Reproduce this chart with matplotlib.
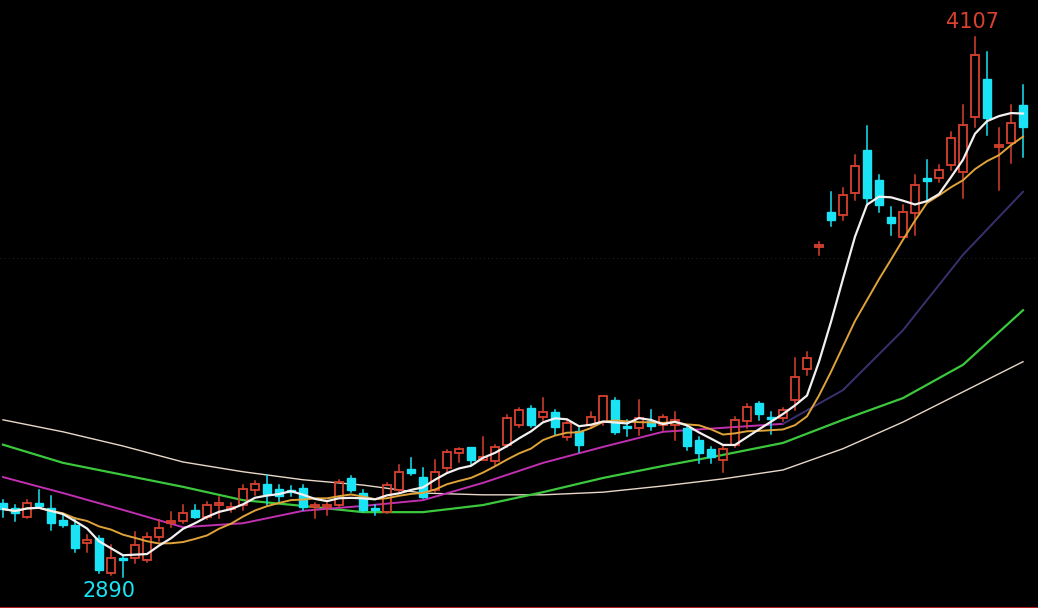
import matplotlib
matplotlib.use("Agg")
import matplotlib.pyplot as plt
import numpy as np
import pandas as pd

opens = [3056,3045,3025,3056,3045,3018,3007,2966,2977,2899,2932,2932,2928,2980,3011,3016,3041,3025,3052,3043,
         3052,3086,3099,3088,3086,3090,3047,3047,3052,3113,3079,3045,3036,3086,3133,3115,3086,3136,3169,3183,
         3154,3151,3188,3233,3271,3250,3262,3206,3219,3233,3239,3289,3230,3226,3242,3233,3233,3226,3199,3179,
         3154,3188,3242,3282,3250,3248,3289,3359,3634,3713,3706,3755,3852,3785,3701,3656,3710,3789,3789,3818,
         3803,3927,4012,3859,3868,3954]
highs = [3063,3052,3063,3086,3072,3029,3023,2984,2982,2962,2937,2991,2989,3018,3036,3052,3052,3059,3070,3056,
         3097,3106,3120,3097,3095,3097,3056,3056,3108,3117,3086,3052,3102,3142,3158,3136,3154,3176,3181,3183,
         3206,3188,3255,3271,3275,3293,3266,3244,3226,3262,3298,3293,3244,3289,3266,3255,3262,3228,3206,3183,
         3185,3250,3280,3284,3262,3271,3384,3397,3645,3758,3766,3841,3906,3796,3724,3728,3796,3830,3818,3893,
         3954,4107,4073,3902,3954,3999]
lows = [3025,3016,3023,3047,2995,3002,2946,2946,2899,2895,2890,2921,2923,2971,3002,3011,3023,3020,3023,3036,
        3041,3075,3052,3056,3072,3041,3023,3029,3047,3081,3036,3029,3034,3081,3120,3068,3081,3124,3149,3142,
        3154,3142,3183,3228,3228,3244,3210,3199,3172,3228,3233,3212,3208,3210,3221,3221,3199,3176,3147,3147,
        3127,3183,3226,3244,3212,3242,3266,3345,3616,3681,3695,3740,3728,3713,3661,3656,3661,3740,3780,3807,
        3744,3904,3886,3762,3823,3837]
closes = [3043,3034,3056,3050,3011,3007,2955,2973,2906,2932,2928,2962,2980,3000,3016,3034,3025,3052,3056,3047,
          3088,3099,3077,3072,3081,3047,3052,3052,3104,3086,3041,3041,3097,3127,3124,3070,3127,3172,3179,3154,
          3160,3183,3248,3266,3233,3262,3228,3237,3188,3250,3298,3217,3226,3248,3230,3250,3244,3185,3169,3160,
          3179,3244,3273,3257,3246,3266,3341,3384,3638,3695,3751,3816,3744,3728,3688,3713,3773,3782,3807,3879,
          3909,4066,3924,3864,3913,3904]

# long moving averages, every 5th session
ma_idx = list(range(0, 86, 5))
ma20 = [3115,3079,3041,3002,3011,3039,3050,3063,3102,3147,3183,3217,3226,3235,3311,3446,3616,3758]
ma60 = [3188,3147,3120,3093,3063,3050,3036,3036,3052,3081,3113,3140,3165,3192,3244,3293,3368,3491]
ma120 = [3244,3217,3185,3149,3127,3109,3097,3079,3075,3075,3081,3095,3111,3131,3179,3239,3307,3375]

fig = plt.figure(figsize=(10.38, 6.08), dpi=100, facecolor="black")
ax = fig.add_axes([0, 0, 1, 1])
ax.set_facecolor("black")
ax.set_xlim(-0.25, 86.25)
ax.set_ylim(2820, 4190)
ax.axis("off")

RED = "#d8412f"
CYAN = "#19e3f5"
x = np.arange(len(closes))
w = 0.72
for i in x:
    o, h, l, c = opens[i], highs[i], lows[i], closes[i]
    up = c >= o
    col = RED if up else CYAN
    lo_b, hi_b = min(o, c), max(o, c)
    if hi_b - lo_b < 3:
        hi_b = lo_b + 3
    ax.plot([i, i], [l, lo_b], color=col, lw=1.1, zorder=2)
    ax.plot([i, i], [hi_b, h], color=col, lw=1.1, zorder=2)
    if up:
        ax.add_patch(plt.Rectangle((i - w / 2, lo_b), w, hi_b - lo_b, fill=False,
                                   edgecolor=col, lw=1.3, zorder=3))
    else:
        ax.add_patch(plt.Rectangle((i - w / 2, lo_b), w, hi_b - lo_b, facecolor=col,
                                   edgecolor=col, lw=1.0, zorder=3))

cs = pd.Series(closes)
ma5 = cs.rolling(5, min_periods=1).mean()
ma10 = cs.rolling(10, min_periods=1).mean()
ax.plot(ma_idx, ma120, color="#e8d8c8", lw=1.0, zorder=1)
ax.plot(ma_idx, ma60, color="#3cc83c", lw=1.6, zorder=1)
ax.plot(ma_idx[:14], ma20[:14], color="#c030b0", lw=1.4, zorder=1)
ax.plot(ma_idx[13:], ma20[13:], color="#3a3070", lw=1.4, zorder=1)
ax.plot(x, ma10, color="#e0a33a", lw=1.4, zorder=4)
ax.plot(x, ma5, color="#f4f0f0", lw=1.6, zorder=5)

ax.axhline(2820 + 1370 * (350 / 608), color="#333333", lw=0.6, ls=(0, (1, 4)), zorder=0)
ax.axhline(2821, color="#b02020", lw=1.5)

ax.text(80.8, 4107 + 12, "4107", color=RED, fontsize=15, ha="center", va="bottom")
ax.text(8.8, 2890 - 10, "2890", color=CYAN, fontsize=15, ha="center", va="top")

fig.savefig("out.png", dpi=100, facecolor="black")
